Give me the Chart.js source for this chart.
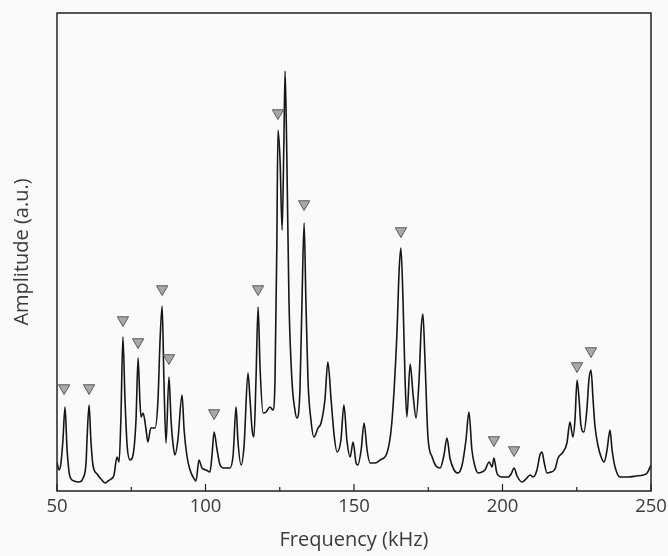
<!DOCTYPE html>
<html>
<head>
<meta charset="utf-8">
<script src="https://cdn.jsdelivr.net/npm/chart.js@4.4.1/dist/chart.umd.min.js"></script>
<style>
  html, body { margin: 0; padding: 0; background: #fafafa; }
  #wrap { width: 668px; height: 556px; }
</style>
</head>
<body>
<div id="wrap"><canvas id="chart" width="668" height="556"></canvas></div>
<script>
// spectrum (frequency in kHz, amplitude in a.u.)
const freqKHz = [50.0, 50.7, 51.3, 52.0, 52.7, 53.4, 54.4, 55.7, 57.4, 58.8,
  59.8, 60.1, 60.8, 61.4, 62.1, 63.5, 64.8, 66.2, 67.2, 68.2,
  69.2, 70.2, 70.9, 71.5, 72.2, 72.9, 73.6, 74.6, 75.6, 76.6,
  77.3, 77.9, 78.3, 79.0, 80.0, 80.6, 81.6, 83.0, 84.0, 84.7,
  85.4, 86.0, 86.7, 87.7, 88.4, 89.1, 89.7, 90.7, 92.1, 92.8,
  93.8, 94.8, 95.8, 96.8, 97.8, 98.8, 100.2, 101.5, 102.2, 102.9,
  103.9, 104.9, 106.2, 108.2, 109.3, 110.3, 110.9, 112.0, 113.0, 114.3,
  115.0, 115.7, 116.3, 117.0, 117.7, 118.4, 119.4, 120.4, 121.7, 122.7,
  123.4, 124.0, 124.4, 125.1, 125.8, 126.4, 126.8, 127.4, 128.1, 129.1,
  130.1, 130.8, 131.8, 132.5, 133.2, 133.8, 134.5, 135.5, 136.5, 137.9,
  138.9, 140.2, 141.2, 142.3, 143.3, 144.3, 145.6, 146.6, 147.6, 148.7,
  149.7, 150.7, 151.3, 152.4, 153.4, 154.4, 155.4, 157.1, 158.8, 161.1,
  162.5, 163.5, 164.5, 165.2, 165.8, 166.5, 167.2, 167.8, 168.9, 169.9,
  170.9, 171.9, 172.6, 173.2, 173.9, 174.9, 176.3, 177.6, 179.0, 180.3,
  181.3, 182.3, 183.7, 185.0, 186.4, 187.7, 188.7, 189.7, 190.7, 191.8,
  193.1, 194.1, 195.5, 196.5, 197.1, 198.1, 199.8, 201.9, 202.9, 203.9,
  204.9, 206.6, 207.9, 209.3, 210.3, 211.6, 212.6, 213.3, 214.0, 215.0,
  216.3, 217.7, 218.7, 220.4, 221.7, 222.7, 223.7, 224.4, 225.1, 225.8,
  226.4, 227.4, 228.4, 229.1, 229.8, 230.5, 231.1, 232.1, 233.2, 234.2,
  235.2, 236.2, 236.9, 237.9, 239.6, 242.3, 245.0, 247.4, 248.7, 250.0];
const amplitude = [29, 21, 27, 51, 84, 41, 14, 10, 9, 13,
  29, 51, 86, 51, 26, 17, 12, 8, 10, 12,
  16, 34, 29, 71, 154, 91, 46, 31, 36, 71,
  133, 91, 74, 78, 61, 49, 63, 63, 91, 151,
  185, 111, 48, 114, 71, 46, 36, 51, 96, 61,
  34, 21, 14, 10, 31, 23, 21, 19, 36, 59,
  41, 26, 23, 23, 36, 84, 51, 26, 46, 118,
  91, 61, 54, 111, 184, 121, 78, 79, 84, 81,
  111, 241, 361, 331, 261, 351, 420, 331, 191, 111,
  81, 73, 101, 191, 268, 191, 111, 71, 54, 63,
  68, 91, 129, 91, 56, 39, 51, 86, 51, 34,
  49, 28, 26, 41, 68, 41, 28, 28, 31, 38,
  61, 101, 161, 221, 243, 191, 111, 74, 127, 96,
  73, 111, 161, 177, 131, 54, 34, 25, 23, 36,
  53, 33, 21, 18, 26, 51, 79, 41, 25, 18,
  19, 21, 29, 24, 33, 18, 14, 14, 17, 23,
  15, 9, 12, 16, 14, 21, 36, 39, 29, 18,
  19, 22, 33, 39, 48, 69, 54, 71, 111, 91,
  66, 59, 81, 111, 121, 91, 66, 46, 34, 29,
  41, 61, 41, 24, 14, 14, 15, 16, 18, 26];

// marked peaks (triangles)
const markerFreq = [52.4, 60.8, 72.2, 77.3, 85.4, 87.7, 102.9, 117.7, 124.4, 133.2, 165.8, 197.1, 203.9, 225.1, 229.8];
const markerAmp = [103, 103, 171, 149, 202, 133, 78, 202, 378, 287, 260, 51, 41, 125, 140];

const xTickLabels = [50, 100, 150, 200, 250];

const spectrum = freqKHz.map((f, i) => ({ x: f, y: amplitude[i] }));
const markers = markerFreq.map((f, i) => ({ x: f, y: markerAmp[i] }));

Chart.defaults.font.family = "'Open Sans', sans-serif";
Chart.defaults.color = '#3a3a3a';

// background, frame and inward ticks
const framePlugin = {
  id: 'frame',
  beforeDraw(chart) {
    const ctx = chart.ctx;
    ctx.save();
    ctx.fillStyle = '#fafafa';
    ctx.fillRect(0, 0, chart.width, chart.height);
    ctx.restore();
  },
  afterDraw(chart) {
    const ctx = chart.ctx;
    const a = chart.chartArea;
    const xs = chart.scales.x;
    ctx.save();
    ctx.strokeStyle = '#222';
    ctx.lineWidth = 1.5;
    ctx.strokeRect(a.left, a.top, a.right - a.left, a.bottom - a.top);
    ctx.lineWidth = 1.2;
    xs.ticks.forEach(t => {
      const px = xs.getPixelForValue(t.value);
      const len = xTickLabels.includes(t.value) ? 7 : 4;
      ctx.beginPath();
      ctx.moveTo(px, a.bottom);
      ctx.lineTo(px, a.bottom - len);
      ctx.stroke();
    });
    ctx.restore();
  }
};

const ctx = document.getElementById('chart').getContext('2d');
const myChart = new Chart(ctx, {
  type: 'scatter',
  data: {
    datasets: [{
      label: 'Spectrum',
      data: spectrum,
      showLine: true,
      borderColor: '#161616',
      borderWidth: 1.6,
      pointRadius: 0,
      cubicInterpolationMode: 'monotone',
      order: 2
    }, {
      label: 'Peaks',
      data: markers,
      pointStyle: 'triangle',
      rotation: 180,
      pointRadius: 6.5,
      backgroundColor: '#a8a8a8',
      borderColor: '#5a5a5a',
      borderWidth: 1,
      order: 1
    }]
  },
  options: {
    responsive: false,
    animation: false,
    layout: { padding: { top: 13, right: 17, left: 0, bottom: 0 } },
    plugins: { legend: { display: false }, tooltip: { enabled: false } },
    scales: {
      x: {
        type: 'linear',
        min: 50,
        max: 250,
        grid: { display: false, drawTicks: false },
        border: { display: false },
        ticks: {
          stepSize: 25,
          autoSkip: false,
          maxRotation: 0,
          padding: 5,
          font: { size: 18.5 },
          callback: v => xTickLabels.includes(v) ? String(v) : ''
        },
        title: {
          display: true,
          text: 'Frequency (kHz)',
          font: { size: 20 },
          padding: { top: 2, bottom: 4 }
        },
        afterFit: s => { s.height = 65; s.paddingLeft = 0; s.paddingRight = 0; }
      },
      y: {
        min: 0,
        max: 478,
        grid: { display: false, drawTicks: false },
        border: { display: false },
        ticks: { display: false },
        title: {
          display: true,
          text: 'Amplitude (a.u.)',
          font: { size: 20 },
          padding: { top: 10, bottom: 0 }
        },
        afterFit: s => { s.width = 57; s.paddingTop = 0; s.paddingBottom = 0; }
      }
    }
  },
  plugins: [framePlugin]
});
</script>
</body>
</html>
